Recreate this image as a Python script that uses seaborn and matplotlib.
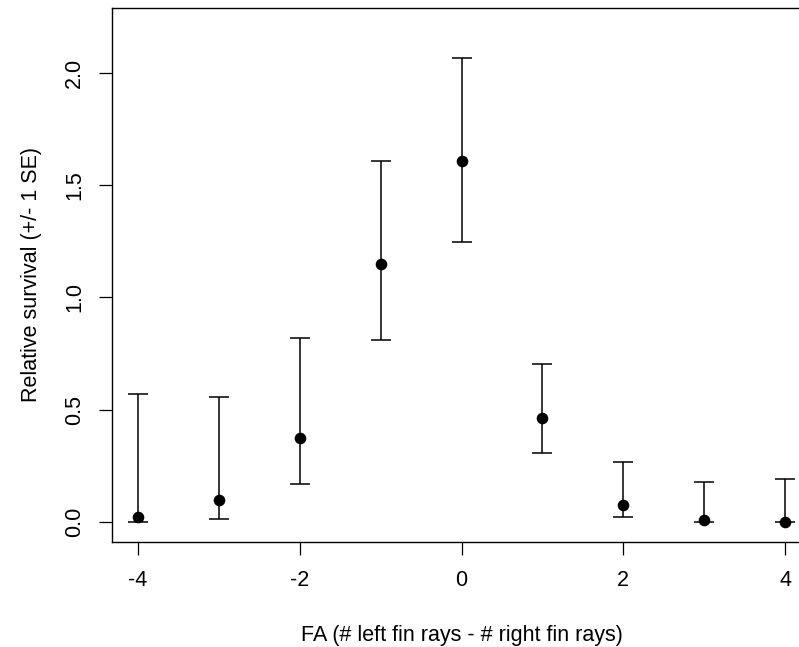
import matplotlib
matplotlib.use("Agg")
import matplotlib.pyplot as plt
import seaborn as sns
import numpy as np
import pandas as pd

fa = [-4, -3, -2, -1, 0, 1, 2, 3, 4]
survival = [0.025, 0.099, 0.376, 1.147, 1.606, 0.465, 0.077, 0.012, 0.002]
lower = [0.0, 0.015, 0.172, 0.809, 1.249, 0.308, 0.022, 0.0, 0.0]
upper = [0.569, 0.559, 0.818, 1.609, 2.067, 0.704, 0.267, 0.178, 0.194]
xticks = [-4, -2, 0, 2, 4]
yticks = [0.0, 0.5, 1.0, 1.5, 2.0]
ytick_labels = ["0.0", "0.5", "1.0", "1.5", "2.0"]
xlabel = "FA (# left fin rays - # right fin rays)"
ylabel = "Relative survival (+/- 1 SE)"

sns.set_style("ticks")
plt.rcParams['font.family'] = ['Liberation Sans', 'DejaVu Sans']
plt.rcParams['text.color'] = 'black'
plt.rcParams['axes.labelcolor'] = 'black'
plt.rcParams['xtick.color'] = 'black'
plt.rcParams['ytick.color'] = 'black'

df = pd.DataFrame({"FA": fa, "surv": survival, "lo": lower, "hi": upper})

W, H = 799, 647
fig = plt.figure(figsize=(W / 100, H / 100), dpi=100)
ax = fig.add_axes([112 / W, 1 - 542 / H, (811 - 112) / W, (542 - 8) / H])

yerr = np.array([df["surv"] - df["lo"], df["hi"] - df["surv"]])
ax.errorbar(df["FA"], df["surv"], yerr=yerr, fmt="none", ecolor="black",
            elinewidth=1.1, capsize=7.5, capthick=1.1)
sns.scatterplot(data=df, x="FA", y="surv", ax=ax, color="black", s=70,
                edgecolor="black", linewidth=0, zorder=3)

fs = 15.5
ax.set_xlim(-4.32, 4.32)
ax.set_ylim(-0.088, 2.288)
ax.set_xticks(xticks)
ax.set_xticklabels([str(t) for t in xticks], fontsize=fs)
ax.set_yticks(yticks)
ax.set_yticklabels(ytick_labels, fontsize=fs, rotation=90, va="center")
ax.tick_params(axis="x", direction="out", length=9.5, width=0.9,
               color="black", pad=11, labelcolor="black")
ax.tick_params(axis="y", direction="out", length=9.5, width=0.9,
               color="black", pad=10, labelcolor="black")
for s in ax.spines.values():
    s.set_visible(True)
    s.set_color("black")
    s.set_linewidth(1.0)

ax.set_xlabel(xlabel, fontsize=fs, labelpad=24, color="black")
ax.set_ylabel(ylabel, fontsize=fs, labelpad=16, color="black")

fig.savefig("out.png", dpi=100)
